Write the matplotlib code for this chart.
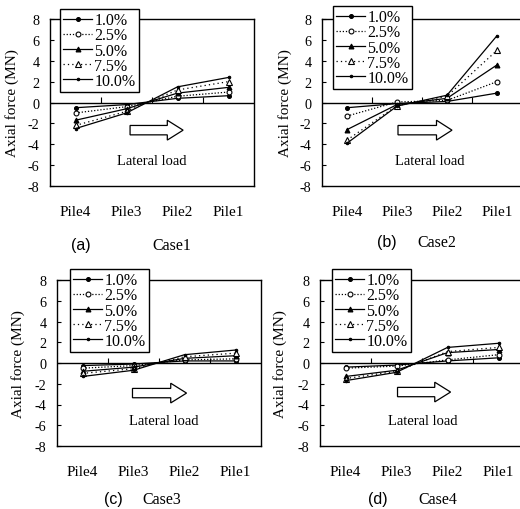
import matplotlib
matplotlib.use("Agg")
import matplotlib.pyplot as plt
from matplotlib.patches import FancyArrow

plt.rcParams['font.family'] = ['Liberation Serif', 'DejaVu Serif']

piles = ["Pile4", "Pile3", "Pile2", "Pile1"]
series_labels = ["1.0%", "2.5%", "5.0%", "7.5%", "10.0%"]

# Axial force (MN) per case, per drift level, values at Pile4..Pile1
case1 = {
    "1.0%":  [-0.5, -0.2, 0.4, 0.65],
    "2.5%":  [-1.0, -0.4, 0.6, 1.0],
    "5.0%":  [-1.7, -0.6, 0.9, 1.45],
    "7.5%":  [-2.2, -0.85, 1.2, 2.0],
    "10.0%": [-2.5, -1.0, 1.5, 2.4],
}
case2 = {
    "1.0%":  [-0.5, -0.1, 0.1, 0.9],
    "2.5%":  [-1.3, 0.05, 0.2, 2.0],
    "5.0%":  [-2.6, -0.2, 0.4, 3.6],
    "7.5%":  [-3.6, -0.3, 0.6, 5.0],
    "10.0%": [-3.9, -0.35, 0.7, 6.4],
}
case3 = {
    "1.0%":  [-0.25, -0.1, 0.2, 0.2],
    "2.5%":  [-0.5, -0.25, 0.3, 0.4],
    "5.0%":  [-0.8, -0.4, 0.45, 0.7],
    "7.5%":  [-1.0, -0.55, 0.6, 0.95],
    "10.0%": [-1.3, -0.7, 0.8, 1.25],
}
case4 = {
    "1.0%":  [-0.4, -0.2, 0.2, 0.5],
    "2.5%":  [-0.5, -0.3, 0.3, 0.8],
    "5.0%":  [-1.3, -0.7, 1.0, 1.3],
    "7.5%":  [-1.5, -0.8, 1.1, 1.5],
    "10.0%": [-1.7, -0.9, 1.5, 1.9],
}
cases = [case1, case2, case3, case4]
case_names = ["Case1", "Case2", "Case3", "Case4"]
panel_letters = ["(a)", "(b)", "(c)", "(d)"]
yticks = [-8, -6, -4, -2, 0, 2, 4, 6, 8]

styles = {
    "1.0%":  dict(ls='-', marker='o', mfc='black', ms=2.8),
    "2.5%":  dict(ls=(0, (1, 1.5)), marker='o', mfc='white', ms=3.5),
    "5.0%":  dict(ls='-', marker='^', mfc='black', ms=3.5),
    "7.5%":  dict(ls=(0, (1, 2.5)), marker='^', mfc='white', ms=3.8),
    "10.0%": dict(ls='-', marker='.', mfc='black', ms=3.5),
}

W, H = 520, 510
fig = plt.figure(figsize=(W / 100, H / 100), dpi=100)

# pixel geometry: left, right, top, bottom
boxes = [(50, 254, 20, 187), (322, 522, 20, 187), (57, 261, 281, 447), (320, 524, 281, 447)]
legend_pos = [(60, 10), (333, 7), (70, 270), (332, 270)]
arrow_spec = [(1.07, 2.11, -2.65), (1.02, 2.10, -2.65), (0.98, 2.04, -2.9), (1.02, 2.06, -2.8)]
text_spec = [(1.5, -5.6), (1.66, -5.6), (1.59, -5.5), (1.52, -5.5)]
ylabel_x = [12, 285, 18, 280]
caption_spec = [((81, 246), (172, 246)), ((387, 243), (437, 243)),
                ((113, 500), (162, 500)), ((378, 500), (438, 500))]

for i, (data, box) in enumerate(zip(cases, boxes)):
    l, r, t, b = box
    ax = fig.add_axes([l / W, (H - b) / H, (r - l) / W, (b - t) / H])
    x = list(range(len(piles)))
    handles = []
    for lab in series_labels:
        st = styles[lab]
        ln, = ax.plot(x, data[lab], color='black', lw=0.9, ls=st['ls'],
                      marker=st['marker'], mfc=st['mfc'], mec='black',
                      ms=st['ms'], mew=0.8, label=lab)
        handles.append(ln)
    ax.set_xlim(-0.5, 3.5)
    ax.set_ylim(-8, 8)
    ax.set_yticks(yticks)
    ax.set_yticklabels([str(v) for v in yticks], fontsize=10.2)
    ax.tick_params(axis='y', direction='in', length=3, width=0.8, pad=7.5)
    ax.set_xticks(x)
    ax.set_xticklabels(piles, fontsize=11)
    ax.tick_params(axis='x', length=0, pad=13.5)
    for sp in ax.spines.values():
        sp.set_linewidth(1.0)
    ax.axhline(0, color='black', lw=1.0)
    ax.vlines([0.5, 1.5, 2.5], 0, 0.5, color='black', lw=0.8)

    x0, x1, yc = arrow_spec[i]
    ax.add_patch(FancyArrow(x0, yc, x1 - x0, 0, width=0.9, head_width=1.9,
                            head_length=0.31, length_includes_head=True,
                            fc='white', ec='black', lw=0.9))
    tx, ty = text_spec[i]
    ax.text(tx, ty, "Lateral load", ha='center', va='center', fontsize=10.5)

    lx, ly = legend_pos[i]
    leg = ax.legend(handles=handles, loc='upper left',
                    bbox_to_anchor=(lx / W, (H - ly) / H),
                    bbox_transform=fig.transFigure, fontsize=11.5,
                    frameon=True, fancybox=False, framealpha=1,
                    edgecolor='black', borderpad=0.2, labelspacing=-0.05,
                    handlelength=1.8, handletextpad=0.15, borderaxespad=0)
    leg.get_frame().set_linewidth(1.0)
    leg.set_zorder(10)

    fig.text(ylabel_x[i] / W, (H - (t + b) / 2) / H, "Axial force (MN)",
             rotation=90, ha='center', va='center', fontsize=11)
    (cx1, cy1), (cx2, cy2) = caption_spec[i]
    fig.text(cx1 / W, (H - cy1) / H, panel_letters[i], ha='center', va='center',
             fontsize=11.5, family=['Liberation Sans', 'DejaVu Sans'])
    fig.text(cx2 / W, (H - cy2) / H, case_names[i], ha='center', va='center',
             fontsize=11.5)

fig.savefig("out.png", dpi=100)
